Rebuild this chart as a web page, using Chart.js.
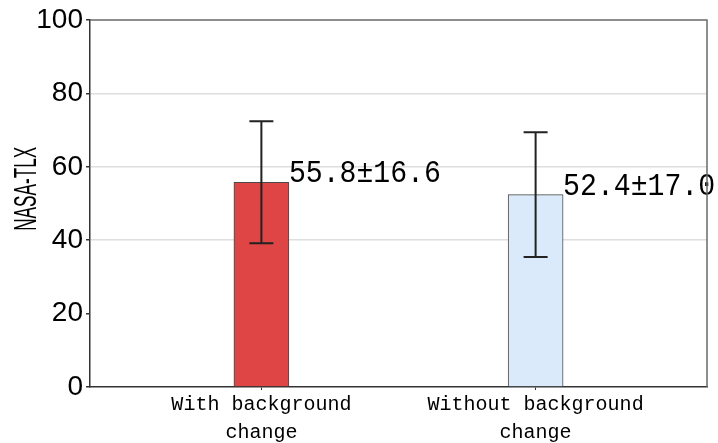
<!DOCTYPE html>
<html>
<head>
<meta charset="utf-8">
<script src="https://cdn.jsdelivr.net/npm/chart.js@4.4.1/dist/chart.umd.min.js"></script>
<style>
html,body{margin:0;padding:0;background:#fff;}
#c{display:block;}
</style>
</head>
<body>
<canvas id="c" width="718" height="443"></canvas>
<script>
// ---- data ----
const categories = [["With background", "change"], ["Without background", "change"]];
const xPositions = [0, 1];
const means = [55.8, 52.4];
const sds = [16.6, 17.0];
const valueLabels = ["55.8\u00b116.6", "52.4\u00b117.0"];
const yTicks = [0, 20, 40, 60, 80, 100];
const yTitle = "NASA-TLX";
const barColors = ["#df4545", "#dbeafb"];

const errorBarPlugin = {
  id: 'errorBars',
  afterDatasetsDraw(chart) {
    const ctx = chart.ctx;
    const ys = chart.scales.y;
    const meta = chart.getDatasetMeta(0);
    ctx.save();
    ctx.strokeStyle = '#222';
    ctx.lineWidth = 2;
    meta.data.forEach((bar, i) => {
      const x = bar.x;
      const top = ys.getPixelForValue(means[i] + sds[i]);
      const bot = ys.getPixelForValue(means[i] - sds[i]);
      ctx.beginPath();
      ctx.moveTo(x, top); ctx.lineTo(x, bot);
      ctx.moveTo(x - 12, top); ctx.lineTo(x + 12, top);
      ctx.moveTo(x - 12, bot); ctx.lineTo(x + 12, bot);
      ctx.stroke();
    });
    ctx.fillStyle = '#000';
    ctx.font = '32px "Liberation Mono"';
    ctx.textBaseline = 'alphabetic';
    ctx.textAlign = 'left';
    meta.data.forEach((bar, i) => {
      const x = bar.x + bar.width / 2;
      const y = bar.y;
      const w = ctx.measureText(valueLabels[i]).width;
      const sx = 152 / w;
      ctx.save();
      ctx.translate(x, y);
      ctx.scale(sx, 1);
      ctx.fillText(valueLabels[i], 0, 0);
      ctx.restore();
    });
    ctx.restore();
  },
  afterDraw(chart) {
    const ctx = chart.ctx;
    const a = chart.chartArea;
    ctx.save();
    ctx.strokeStyle = '#6a6a6a';
    ctx.lineWidth = 1.5;
    ctx.beginPath();
    ctx.moveTo(a.left, a.top); ctx.lineTo(a.right, a.top); ctx.lineTo(a.right, a.bottom);
    ctx.stroke();
    ctx.fillStyle = '#000';
    ctx.font = '31px "Liberation Sans"';
    ctx.textAlign = 'center';
    ctx.textBaseline = 'middle';
    const w = ctx.measureText(yTitle).width;
    ctx.translate(26, a.top + (a.bottom - a.top) * 0.46);
    ctx.rotate(-Math.PI / 2);
    ctx.scale(84 / w, 1);
    ctx.fillText(yTitle, 0, 1);
    ctx.restore();
  }
};

new Chart(document.getElementById('c'), {
  type: 'bar',
  data: {
    datasets: [{
      data: means.map((m, i) => ({ x: xPositions[i], y: m })),
      backgroundColor: barColors,
      borderColor: '#4a4a4a',
      borderWidth: 1,
      barThickness: 55
    }]
  },
  options: {
    responsive: false,
    devicePixelRatio: 1,
    animation: false,
    layout: { padding: { top: 20, right: 11, left: 0, bottom: 0 } },
    plugins: { legend: { display: false }, tooltip: { enabled: false } },
    scales: {
      x: {
        type: 'linear',
        offset: false,
        min: -0.625,
        max: 1.625,
        afterBuildTicks: s => { s.ticks = xPositions.map(v => ({ value: v })); },
        afterFit: s => { s.height = 56; },
        ticks: {
          autoSkip: false,
          maxRotation: 0,
          padding: 1,
          color: '#000',
          font: { family: '"Liberation Mono"', size: 20, lineHeight: 1.4 },
          callback: (v, i) => categories[i]
        },
        grid: { offset: false, drawOnChartArea: false, tickLength: 3, tickColor: '#333' },
        border: { color: '#333', width: 1.5 }
      },
      y: {
        min: 0,
        max: 100,
        afterBuildTicks: s => { s.ticks = yTicks.map(v => ({ value: v })); },
        afterFit: s => { s.width = 90; },
        ticks: {
          padding: 3,
          color: '#000',
          font: { family: '"Liberation Sans"', size: 28 }
        },
        grid: {
          color: c => (c.tick && (c.tick.value === 0 || c.tick.value === 20 || c.tick.value === 100)) ? 'rgba(0,0,0,0)' : '#dedede',
          lineWidth: 1.5,
          tickLength: 4,
          tickColor: '#333'
        },
        border: { color: '#333', width: 1.5 }
      }
    }
  },
  plugins: [errorBarPlugin]
});
</script>
</body>
</html>
